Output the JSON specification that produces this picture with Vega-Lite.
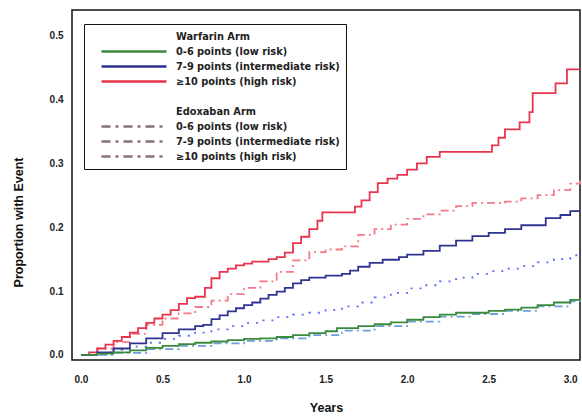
{
  "$schema": "https://vega.github.io/schema/vega-lite/v6.json",
  "width": 508,
  "height": 350,
  "autosize": "none",
  "padding": {"left": 72, "top": 10, "right": 2, "bottom": 56},
  "background": "white",
  "config": {
    "font": "Liberation Sans",
    "view": {"stroke": "#111", "strokeWidth": 1.5}
  },
  "data": {
    "values": [
      {"s": "W2", "t": 0, "v": 0},
      {"s": "W2", "t": 0.05, "v": 0.004},
      {"s": "W2", "t": 0.1, "v": 0.01},
      {"s": "W2", "t": 0.15, "v": 0.016},
      {"s": "W2", "t": 0.2, "v": 0.022},
      {"s": "W2", "t": 0.25, "v": 0.028},
      {"s": "W2", "t": 0.3, "v": 0.035},
      {"s": "W2", "t": 0.35, "v": 0.042},
      {"s": "W2", "t": 0.4, "v": 0.05},
      {"s": "W2", "t": 0.45, "v": 0.057},
      {"s": "W2", "t": 0.5, "v": 0.063},
      {"s": "W2", "t": 0.55, "v": 0.07},
      {"s": "W2", "t": 0.6, "v": 0.08},
      {"s": "W2", "t": 0.65, "v": 0.089},
      {"s": "W2", "t": 0.7, "v": 0.091},
      {"s": "W2", "t": 0.76, "v": 0.105},
      {"s": "W2", "t": 0.8, "v": 0.12},
      {"s": "W2", "t": 0.85, "v": 0.13},
      {"s": "W2", "t": 0.9, "v": 0.135},
      {"s": "W2", "t": 0.95, "v": 0.14},
      {"s": "W2", "t": 1.0, "v": 0.143},
      {"s": "W2", "t": 1.05, "v": 0.146},
      {"s": "W2", "t": 1.15, "v": 0.15},
      {"s": "W2", "t": 1.2, "v": 0.153},
      {"s": "W2", "t": 1.25, "v": 0.16},
      {"s": "W2", "t": 1.3, "v": 0.175},
      {"s": "W2", "t": 1.35, "v": 0.185},
      {"s": "W2", "t": 1.4, "v": 0.197},
      {"s": "W2", "t": 1.45, "v": 0.21},
      {"s": "W2", "t": 1.48, "v": 0.223},
      {"s": "W2", "t": 1.68, "v": 0.232},
      {"s": "W2", "t": 1.72, "v": 0.242},
      {"s": "W2", "t": 1.77, "v": 0.255},
      {"s": "W2", "t": 1.82, "v": 0.269},
      {"s": "W2", "t": 1.88, "v": 0.276},
      {"s": "W2", "t": 1.94, "v": 0.282},
      {"s": "W2", "t": 2.0, "v": 0.29},
      {"s": "W2", "t": 2.06, "v": 0.3},
      {"s": "W2", "t": 2.12, "v": 0.31},
      {"s": "W2", "t": 2.2, "v": 0.318},
      {"s": "W2", "t": 2.52, "v": 0.328},
      {"s": "W2", "t": 2.56, "v": 0.34},
      {"s": "W2", "t": 2.6, "v": 0.353},
      {"s": "W2", "t": 2.69, "v": 0.364},
      {"s": "W2", "t": 2.75, "v": 0.38},
      {"s": "W2", "t": 2.77, "v": 0.41},
      {"s": "W2", "t": 2.91, "v": 0.425},
      {"s": "W2", "t": 2.98, "v": 0.447},
      {"s": "W2", "t": 3.06, "v": 0.447},

      {"s": "E2", "t": 0, "v": 0},
      {"s": "E2", "t": 0.1, "v": 0.01},
      {"s": "E2", "t": 0.2, "v": 0.02},
      {"s": "E2", "t": 0.3, "v": 0.033},
      {"s": "E2", "t": 0.4, "v": 0.047},
      {"s": "E2", "t": 0.5, "v": 0.057},
      {"s": "E2", "t": 0.6, "v": 0.065},
      {"s": "E2", "t": 0.7, "v": 0.075},
      {"s": "E2", "t": 0.8, "v": 0.085},
      {"s": "E2", "t": 0.9, "v": 0.095},
      {"s": "E2", "t": 1.0, "v": 0.105},
      {"s": "E2", "t": 1.1, "v": 0.115},
      {"s": "E2", "t": 1.2, "v": 0.13},
      {"s": "E2", "t": 1.3, "v": 0.148},
      {"s": "E2", "t": 1.4, "v": 0.161},
      {"s": "E2", "t": 1.5, "v": 0.165},
      {"s": "E2", "t": 1.6, "v": 0.17},
      {"s": "E2", "t": 1.7, "v": 0.188},
      {"s": "E2", "t": 1.8, "v": 0.197},
      {"s": "E2", "t": 1.9, "v": 0.204},
      {"s": "E2", "t": 2.0, "v": 0.213},
      {"s": "E2", "t": 2.1, "v": 0.22},
      {"s": "E2", "t": 2.2, "v": 0.226},
      {"s": "E2", "t": 2.3, "v": 0.233},
      {"s": "E2", "t": 2.4, "v": 0.238},
      {"s": "E2", "t": 2.6, "v": 0.24},
      {"s": "E2", "t": 2.7, "v": 0.245},
      {"s": "E2", "t": 2.8, "v": 0.25},
      {"s": "E2", "t": 2.9, "v": 0.258},
      {"s": "E2", "t": 3.0, "v": 0.268},
      {"s": "E2", "t": 3.06, "v": 0.273},

      {"s": "W1", "t": 0, "v": 0},
      {"s": "W1", "t": 0.1, "v": 0.004},
      {"s": "W1", "t": 0.2, "v": 0.01},
      {"s": "W1", "t": 0.3, "v": 0.018},
      {"s": "W1", "t": 0.4, "v": 0.026},
      {"s": "W1", "t": 0.5, "v": 0.034},
      {"s": "W1", "t": 0.6, "v": 0.04},
      {"s": "W1", "t": 0.7, "v": 0.045},
      {"s": "W1", "t": 0.75, "v": 0.047},
      {"s": "W1", "t": 0.8, "v": 0.056},
      {"s": "W1", "t": 0.85, "v": 0.062},
      {"s": "W1", "t": 0.9, "v": 0.068},
      {"s": "W1", "t": 0.95, "v": 0.073},
      {"s": "W1", "t": 1.0, "v": 0.078},
      {"s": "W1", "t": 1.05, "v": 0.082},
      {"s": "W1", "t": 1.1, "v": 0.088},
      {"s": "W1", "t": 1.15, "v": 0.094},
      {"s": "W1", "t": 1.2, "v": 0.099},
      {"s": "W1", "t": 1.25, "v": 0.105},
      {"s": "W1", "t": 1.3, "v": 0.112},
      {"s": "W1", "t": 1.35, "v": 0.117},
      {"s": "W1", "t": 1.4, "v": 0.121},
      {"s": "W1", "t": 1.5, "v": 0.124},
      {"s": "W1", "t": 1.6, "v": 0.127},
      {"s": "W1", "t": 1.65, "v": 0.132},
      {"s": "W1", "t": 1.7, "v": 0.138},
      {"s": "W1", "t": 1.77, "v": 0.144},
      {"s": "W1", "t": 1.85, "v": 0.149},
      {"s": "W1", "t": 1.95, "v": 0.153},
      {"s": "W1", "t": 2.0, "v": 0.157},
      {"s": "W1", "t": 2.1, "v": 0.163},
      {"s": "W1", "t": 2.2, "v": 0.171},
      {"s": "W1", "t": 2.3, "v": 0.179},
      {"s": "W1", "t": 2.4, "v": 0.186},
      {"s": "W1", "t": 2.5, "v": 0.191},
      {"s": "W1", "t": 2.6, "v": 0.197},
      {"s": "W1", "t": 2.7, "v": 0.203},
      {"s": "W1", "t": 2.85, "v": 0.214},
      {"s": "W1", "t": 2.94, "v": 0.219},
      {"s": "W1", "t": 3.0, "v": 0.225},
      {"s": "W1", "t": 3.06, "v": 0.225},

      {"s": "E1", "t": 0, "v": 0},
      {"s": "E1", "t": 0.1, "v": 0.003},
      {"s": "E1", "t": 0.2, "v": 0.008},
      {"s": "E1", "t": 0.3, "v": 0.013},
      {"s": "E1", "t": 0.4, "v": 0.019},
      {"s": "E1", "t": 0.5, "v": 0.025},
      {"s": "E1", "t": 0.6, "v": 0.03},
      {"s": "E1", "t": 0.7, "v": 0.035},
      {"s": "E1", "t": 0.8, "v": 0.04},
      {"s": "E1", "t": 0.9, "v": 0.045},
      {"s": "E1", "t": 1.0, "v": 0.05},
      {"s": "E1", "t": 1.1, "v": 0.054},
      {"s": "E1", "t": 1.2, "v": 0.059},
      {"s": "E1", "t": 1.3, "v": 0.063},
      {"s": "E1", "t": 1.4, "v": 0.066},
      {"s": "E1", "t": 1.5, "v": 0.07},
      {"s": "E1", "t": 1.6, "v": 0.076},
      {"s": "E1", "t": 1.7, "v": 0.082},
      {"s": "E1", "t": 1.8, "v": 0.09},
      {"s": "E1", "t": 1.9, "v": 0.097},
      {"s": "E1", "t": 2.0, "v": 0.104},
      {"s": "E1", "t": 2.1, "v": 0.109},
      {"s": "E1", "t": 2.2, "v": 0.115},
      {"s": "E1", "t": 2.3, "v": 0.121},
      {"s": "E1", "t": 2.4, "v": 0.127},
      {"s": "E1", "t": 2.5, "v": 0.131},
      {"s": "E1", "t": 2.6, "v": 0.135},
      {"s": "E1", "t": 2.7, "v": 0.139},
      {"s": "E1", "t": 2.8, "v": 0.145},
      {"s": "E1", "t": 2.9, "v": 0.15},
      {"s": "E1", "t": 3.0, "v": 0.156},
      {"s": "E1", "t": 3.06, "v": 0.159},

      {"s": "W0", "t": 0, "v": 0},
      {"s": "W0", "t": 0.1, "v": 0.002},
      {"s": "W0", "t": 0.2, "v": 0.004},
      {"s": "W0", "t": 0.3, "v": 0.007},
      {"s": "W0", "t": 0.4, "v": 0.011},
      {"s": "W0", "t": 0.5, "v": 0.014},
      {"s": "W0", "t": 0.6, "v": 0.017},
      {"s": "W0", "t": 0.7, "v": 0.019},
      {"s": "W0", "t": 0.8, "v": 0.021},
      {"s": "W0", "t": 0.9, "v": 0.023},
      {"s": "W0", "t": 1.0, "v": 0.025},
      {"s": "W0", "t": 1.1, "v": 0.026},
      {"s": "W0", "t": 1.2, "v": 0.028},
      {"s": "W0", "t": 1.3, "v": 0.031},
      {"s": "W0", "t": 1.4, "v": 0.034},
      {"s": "W0", "t": 1.5, "v": 0.037},
      {"s": "W0", "t": 1.57, "v": 0.042},
      {"s": "W0", "t": 1.7, "v": 0.045},
      {"s": "W0", "t": 1.8, "v": 0.048},
      {"s": "W0", "t": 1.9, "v": 0.051},
      {"s": "W0", "t": 2.0, "v": 0.055},
      {"s": "W0", "t": 2.1, "v": 0.059},
      {"s": "W0", "t": 2.2, "v": 0.063},
      {"s": "W0", "t": 2.3, "v": 0.066},
      {"s": "W0", "t": 2.5, "v": 0.069},
      {"s": "W0", "t": 2.6, "v": 0.071},
      {"s": "W0", "t": 2.7, "v": 0.074},
      {"s": "W0", "t": 2.8, "v": 0.078},
      {"s": "W0", "t": 2.9, "v": 0.082},
      {"s": "W0", "t": 3.0, "v": 0.086},
      {"s": "W0", "t": 3.06, "v": 0.088},

      {"s": "E0", "t": 0, "v": 0},
      {"s": "E0", "t": 0.2, "v": 0.003},
      {"s": "E0", "t": 0.4, "v": 0.009},
      {"s": "E0", "t": 0.6, "v": 0.014},
      {"s": "E0", "t": 0.8, "v": 0.018},
      {"s": "E0", "t": 1.0, "v": 0.022},
      {"s": "E0", "t": 1.2, "v": 0.026},
      {"s": "E0", "t": 1.4, "v": 0.031},
      {"s": "E0", "t": 1.6, "v": 0.038},
      {"s": "E0", "t": 1.8, "v": 0.045},
      {"s": "E0", "t": 2.0, "v": 0.052},
      {"s": "E0", "t": 2.2, "v": 0.06},
      {"s": "E0", "t": 2.4, "v": 0.064},
      {"s": "E0", "t": 2.6, "v": 0.069},
      {"s": "E0", "t": 2.8, "v": 0.076},
      {"s": "E0", "t": 3.0, "v": 0.084},
      {"s": "E0", "t": 3.06, "v": 0.086}
    ]
  },
  "encoding": {
    "x": {
      "field": "t", "type": "quantitative",
      "scale": {"domain": [-0.055, 3.06], "nice": false, "zero": false},
      "axis": {
        "values": [0, 0.5, 1, 1.5, 2, 2.5, 3], "format": ".1f",
        "title": "Years", "grid": false, "domain": false, "ticks": false,
        "labelFont": "Liberation Sans", "labelFontSize": 10, "labelFontWeight": "bold", "labelColor": "#222",
        "labelPadding": 14,
        "titleFont": "Liberation Sans", "titleFontSize": 12.5, "titleFontWeight": "bold", "titleColor": "#111",
        "titlePadding": 17
      }
    },
    "y": {
      "field": "v", "type": "quantitative",
      "scale": {"domain": [-0.008, 0.54], "nice": false, "zero": false},
      "axis": {
        "values": [0, 0.1, 0.2, 0.3, 0.4, 0.5], "format": ".1f",
        "title": "Proportion with Event", "grid": false, "domain": false, "ticks": false,
        "labelFont": "Liberation Sans", "labelFontSize": 10, "labelFontWeight": "bold", "labelColor": "#222",
        "labelPadding": 9,
        "titleFont": "Liberation Sans", "titleFontSize": 12.5, "titleFontWeight": "bold", "titleColor": "#111",
        "titlePadding": 24, "titleY": 212
      }
    }
  },
  "layer": [
    {
      "transform": [{"filter": "datum.s == 'E2'"}],
      "mark": {"type": "line", "interpolate": "step-after", "strokeWidth": 1.8, "color": "#f37a88", "strokeDash": [8, 4, 2, 4]}
    },
    {
      "transform": [{"filter": "datum.s == 'E1'"}],
      "mark": {"type": "line", "interpolate": "step-after", "strokeWidth": 1.8, "color": "#5b6ef5", "strokeDash": [2, 7]}
    },
    {
      "transform": [{"filter": "datum.s == 'E0'"}],
      "mark": {"type": "line", "interpolate": "step-after", "strokeWidth": 1.8, "color": "#6a9fd8", "strokeDash": [8, 4, 2, 4]}
    },
    {
      "transform": [{"filter": "datum.s == 'W0' || datum.s == 'W1' || datum.s == 'W2' || datum.t == 0"}],
      "mark": {"type": "line", "interpolate": "step-after", "strokeWidth": 1.8},
      "encoding": {
        "color": {
          "field": "s", "type": "nominal",
          "scale": {
            "domain": ["WH", "W0", "W1", "W2", "SP", "EH", "E0", "E1", "E2"],
            "range": ["transparent", "#3b8a3b", "#2e3590", "#e8344c", "transparent", "transparent", "#8c6e7e", "#8c6e7e", "#8c6e7e"]
          },
          "legend": {
            "title": null,
            "orient": "none", "legendX": 12, "legendY": 14,
            "strokeColor": "#111", "fillColor": "white", "padding": 6,
            "symbolType": "stroke", "symbolSize": 4225, "symbolStrokeWidth": 2.4, "symbolOffset": 10,
            "clipHeight": 13, "rowPadding": 2, "labelOffset": 8, "labelLimit": 300,
            "labelFont": "DejaVu Sans", "labelFontSize": 9.8, "labelFontWeight": "bold", "labelColor": "#222",
            "labelExpr": "datum.value=='WH'?'Warfarin Arm':datum.value=='EH'?'Edoxaban Arm':datum.value=='SP'?'':(datum.value=='W0'||datum.value=='E0')?'0-6 points (low risk)':(datum.value=='W1'||datum.value=='E1')?'7-9 points (intermediate risk)':'≥10 points (high risk)'"
          }
        },
        "strokeDash": {
          "field": "s", "type": "nominal",
          "scale": {
            "domain": ["WH", "W0", "W1", "W2", "SP", "EH", "E0", "E1", "E2"],
            "range": [[1, 0], [1, 0], [1, 0], [1, 0], [1, 0], [1, 0], [9, 5, 3, 5], [9, 5, 3, 5], [9, 5, 3, 5]]
          },
          "legend": {
            "title": null,
            "orient": "none", "legendX": 12, "legendY": 14,
            "strokeColor": "#111", "fillColor": "white", "padding": 6,
            "symbolType": "stroke", "symbolSize": 4225, "symbolStrokeWidth": 2.4, "symbolOffset": 10,
            "clipHeight": 13, "rowPadding": 2, "labelOffset": 8, "labelLimit": 300,
            "labelFont": "DejaVu Sans", "labelFontSize": 9.8, "labelFontWeight": "bold", "labelColor": "#222",
            "labelExpr": "datum.value=='WH'?'Warfarin Arm':datum.value=='EH'?'Edoxaban Arm':datum.value=='SP'?'':(datum.value=='W0'||datum.value=='E0')?'0-6 points (low risk)':(datum.value=='W1'||datum.value=='E1')?'7-9 points (intermediate risk)':'≥10 points (high risk)'"
          }
        }
      }
    }
  ]
}
